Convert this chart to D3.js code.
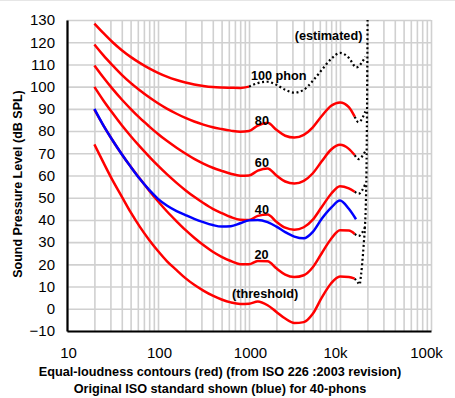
<!DOCTYPE html>
<html>
<head>
<meta charset="utf-8">
<script src="https://cdn.jsdelivr.net/npm/d3@7"></script>
<style>
  body { margin: 0; background: #fff; }
  text { font-family: "Liberation Sans", Arial, Helvetica, sans-serif; }
</style>
</head>
<body>
<script>
// ISO 226 frequencies (Hz), plus the extended end point of the drawn curves
const freqs = [20, 25, 31.5, 40, 50, 63, 80, 100, 125, 160, 200, 250, 315, 400, 500, 630, 800,
  1000, 1250, 1600, 2000, 2500, 3150, 4000, 5000, 6300, 8000, 10000, 12500, 14500];

const phonThreshold = [74, 66, 58, 50.5, 43.5, 37, 31, 26, 21.5, 17.4, 13.8, 10.8, 8.2, 5.9, 4.2, 2.9, 2.2,
  2.3, 3.3, 1.6, -1.4, -4.4, -6.4, -6.0, -2.4, 5, 11.5, 14.5, 14.3, 13.6];
const phon20 = [89.6, 82.7, 76, 69.6, 64, 58.6, 53.2, 48.4, 43.9, 39.4, 35.5, 32, 28.7, 25.7, 23.4, 21.5, 20.1,
  20, 21.5, 21.4, 18.2, 15.4, 14.3, 15.1, 18.6, 25, 31.5, 35.3, 35.2, 33.7];
const phon40 = [99.9, 93.9, 88.2, 82.6, 77.8, 73.1, 68.5, 64.4, 60.6, 56.7, 53.4, 50.4, 47.6, 45, 43.1, 41.3, 40.1,
  40, 41.8, 42.5, 39.2, 36.5, 35.6, 36.7, 40, 45.8, 51.8, 55.2, 54.2, 52.7];
const phon60 = [109.5, 104.2, 99.1, 94.2, 90, 85.9, 82.1, 78.7, 75.6, 72.5, 69.9, 67.5, 65.4, 63.5, 62.1, 60.8, 59.9,
  60, 62.2, 63.2, 60, 57.3, 56.4, 57.6, 60.9, 66.4, 71.7, 73.8, 72, 69.2];
const phon80 = [119, 114.2, 109.7, 105.3, 101.7, 98.4, 95.2, 92.5, 90.1, 87.8, 85.9, 84.3, 82.9, 81.7, 80.9, 80.2, 79.7,
  80, 82.5, 83.7, 80.6, 77.9, 77.1, 78.3, 81.6, 86.8, 91.4, 92.9, 90.8, 86.5];
// 100 phon is only drawn solid up to 1 kHz
const phon100 = [128.4, 124.2, 120.1, 116.4, 113.4, 110.7, 108.2, 106.2, 104.5, 103, 101.9, 101, 100.3, 99.8, 99.6, 99.5, 99.4,
  100];

// original ISO 40-phon contour (blue)
const blueFreqs = [20, 25, 31.5, 40, 50, 63, 80, 100, 125, 160, 200, 250, 315, 400, 500, 630, 800,
  1000, 1250, 1600, 2000, 2500, 3150, 4000, 5000, 6300, 8000, 10000, 12500, 15000];
const blue40 = [90, 82.7, 76, 69.6, 64, 58.5, 53.5, 49.5, 46.5, 44, 42.2, 40.5, 39, 37.7, 37, 37.2, 38.5,
  39.8, 40, 39, 37, 34.5, 32.5, 31.7, 34.5, 40.5, 45.5, 48.7, 45, 40.3];

// estimated (dotted) parts
const est100Freqs = [1000, 1250, 1600, 2000, 2500, 3150, 4000, 5000, 6300, 8000, 10000, 12500, 15100, 19000];
const est100 = [100, 101.6, 102.2, 100.8, 98.6, 97.3, 98.6, 102.5, 107.5, 112.5, 115.2, 113, 108.7, 113.5];
const tailFreqs = [14500, 16000, 19000];
const tail80 = [86.5, 84, 88.8];
const tail60 = [69.2, 67.4, 71];
const tail40 = [52.7, 51.8, 56.2];
const tail20 = [33.7, 32.8, 37];
const tailThreshold = [13.6, 11.4];
const limitFreqs = [16600, 17500, 18300, 18800, 19300, 19600, 19900, 20100];
const limitLevels = [11.4, 20, 30, 37, 50, 67, 100, 132];

// axis ticks and labels
const xTicks = [10, 100, 1000, 10000, 100000];
const xTickLabels = ['10', '100', '1000', '10k', '100k'];
const yTicks = [-10, 0, 10, 20, 30, 40, 50, 60, 70, 80, 90, 100, 110, 120, 130];

// curve labels, anchored in data coordinates
const labelTexts = ['100 phon', '80', '60', '40', '20', '(threshold)', '(estimated)'];
const labelFreqs = [1050, 1160, 1160, 1160, 1150, 650, 3180];
const labelLevels = [103, 82.7, 63.8, 42.6, 22.4, 4.8, 121];

const width = 455, height = 398;
const margin = { top: 20, right: 24, bottom: 67, left: 67 };

const svg = d3.select('body').append('svg')
  .attr('width', width)
  .attr('height', height);

// faint frame line along the top edge
svg.append('line')
  .attr('x1', 0).attr('x2', width)
  .attr('y1', 0.5).attr('y2', 0.5)
  .attr('stroke', '#e6e6e6');

const x = d3.scaleLog()
  .domain([10, 100000])
  .range([margin.left, width - margin.right]);

const y = d3.scaleLinear()
  .domain([-10, 130])
  .range([height - margin.bottom, margin.top]);

// grid lines
svg.append('g')
  .attr('transform', `translate(0,${height - margin.bottom})`)
  .call(d3.axisBottom(x).tickValues(x.ticks()).tickSize(-(height - margin.bottom - margin.top)).tickFormat(''))
  .call(g => g.select('.domain').remove())
  .call(g => g.selectAll('line').attr('stroke', '#d0d0d0').attr('stroke-width', 1.6));

svg.append('g')
  .attr('transform', `translate(${margin.left},0)`)
  .call(d3.axisLeft(y).tickValues(yTicks).tickSize(-(width - margin.right - margin.left)).tickFormat(''))
  .call(g => g.select('.domain').remove())
  .call(g => g.selectAll('line').attr('stroke', '#d0d0d0').attr('stroke-width', 1.6));

// axes
const xAxis = svg.append('g')
  .attr('transform', `translate(0,${height - margin.bottom})`)
  .call(d3.axisBottom(x).tickValues(xTicks).tickSize(0).tickPadding(16)
    .tickFormat((d, i) => xTickLabels[i]));
xAxis.select('.domain').attr('stroke', '#000').attr('stroke-width', 2.2);
xAxis.selectAll('text')
  .attr('font-size', 15)
  .attr('fill', '#000')
  .attr('dx', d => d >= 10000 ? -5 : 1);

const yAxis = svg.append('g')
  .attr('transform', `translate(${margin.left},0)`)
  .call(d3.axisLeft(y).tickValues(yTicks).tickSize(0).tickPadding(12));
yAxis.select('.domain').attr('stroke', '#000').attr('stroke-width', 2.2);
yAxis.selectAll('text')
  .attr('font-size', 15)
  .attr('fill', '#000');

svg.append('clipPath').attr('id', 'plot')
  .append('rect')
  .attr('x', margin.left)
  .attr('y', margin.top)
  .attr('width', width - margin.left - margin.right)
  .attr('height', height - margin.top - margin.bottom);

const plot = svg.append('g').attr('clip-path', 'url(#plot)');

const line = (fs) => d3.line()
  .x((d, i) => x(fs[i]))
  .y(d => y(d))
  .curve(d3.curveMonotoneX);

// estimated dotted parts
const dotted = [
  [est100Freqs, est100],
  [tailFreqs, tail80],
  [tailFreqs, tail60],
  [tailFreqs, tail40],
  [tailFreqs, tail20],
  [tailFreqs, tailThreshold],
  [limitFreqs, limitLevels]
];
dotted.forEach(([fs, vals]) => {
  plot.append('path')
    .datum(vals)
    .attr('fill', 'none')
    .attr('stroke', '#000')
    .attr('stroke-width', 2.2)
    .attr('stroke-dasharray', '2,2.6')
    .attr('d', line(fs));
});

// red ISO 226:2003 contours
[phonThreshold, phon20, phon40, phon60, phon80, phon100].forEach(vals => {
  plot.append('path')
    .datum(vals)
    .attr('fill', 'none')
    .attr('stroke', '#ff0000')
    .attr('stroke-width', 2.5)
    .attr('d', line(freqs));
});

// blue original 40-phon
plot.append('path')
  .datum(blue40)
  .attr('fill', 'none')
  .attr('stroke', '#0000ff')
  .attr('stroke-width', 2.5)
  .attr('d', line(blueFreqs));

// curve labels
svg.append('g')
  .selectAll('text')
  .data(labelTexts)
  .join('text')
  .attr('x', (d, i) => x(labelFreqs[i]))
  .attr('y', (d, i) => y(labelLevels[i]))
  .attr('font-size', 12.7)
  .attr('font-weight', 'bold')
  .attr('fill', '#000')
  .text(d => d);

// axis titles
svg.append('text')
  .attr('transform', 'translate(22,184) rotate(-90)')
  .attr('text-anchor', 'middle')
  .attr('font-size', 12.5)
  .attr('font-weight', 'bold')
  .text('Sound Pressure Level (dB SPL)');

svg.append('text')
  .attr('x', 220)
  .attr('y', 376)
  .attr('text-anchor', 'middle')
  .attr('font-size', 12.7)
  .attr('font-weight', 'bold')
  .text('Equal-loudness contours (red) (from ISO 226 :2003 revision)');

svg.append('text')
  .attr('x', 220)
  .attr('y', 393)
  .attr('text-anchor', 'middle')
  .attr('font-size', 12.7)
  .attr('font-weight', 'bold')
  .text('Original ISO standard shown (blue) for 40-phons');
</script>
</body>
</html>
